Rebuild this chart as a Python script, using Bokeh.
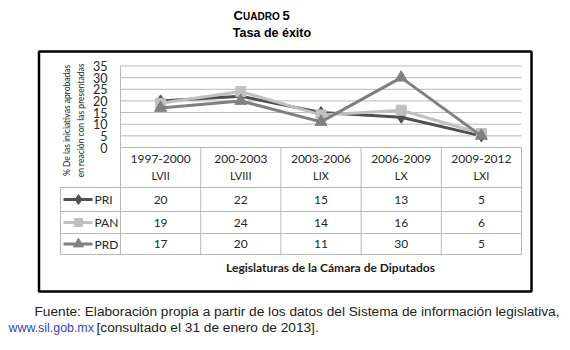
import math
from bokeh.plotting import figure
from bokeh.models import Range1d
from bokeh.core.properties import value
from bokeh.embed import file_html
from bokeh.resources import INLINE

# ---- data ----
periods = ["1997-2000", "200-2003", "2003-2006", "2006-2009", "2009-2012"]
legislaturas = ["LVII", "LVIII", "LIX", "LX", "LXI"]
series_names = ["PRI", "PAN", "PRD"]
pri = [20, 22, 15, 13, 5]
pan = [19, 24, 14, 16, 6]
prd = [17, 20, 11, 30, 5]
y_ticks = [0, 5, 10, 15, 20, 25, 30, 35]
y_title = ["% De las iniciativas aprobadas", "en reación con las presentadas"]
x_title = "Legislaturas de la Cámara de Diputados"
footnote1 = "Fuente: Elaboración propia a partir de los datos del Sistema de información legislativa,"
footnote_link = "www.sil.gob.mx"
footnote2 = "[consultado el 31 de enero de 2013]."

# ---- layout constants (screen) ----
W, H = 570, 350
COL = 80.2          # px per category
X0 = 120            # screen x of category axis start
PPU = 2.33          # px per percentage unit
Y0 = 147            # screen y of value 0

p = figure(width=W, height=H, output_backend="svg", toolbar_location=None,
           x_range=Range1d(-X0 / COL, (W - X0) / COL),
           y_range=Range1d(-(H - Y0) / PPU, Y0 / PPU),
           x_axis_location=None, y_axis_location=None,
           min_border=0, outline_line_color=None)
p.grid.visible = False
p.background_fill_color = "white"
p.border_fill_color = "white"
p.extra_x_ranges = {"px": Range1d(0, W)}
p.extra_y_ranges = {"px": Range1d(H, 0)}
PX = dict(x_range_name="px", y_range_name="px")

n = len(periods)
xc = [i + 0.5 for i in range(n)]
FONT = value("Lato")
GRID = "#b8b8b8"
TXT = "#262626"
SANS = value("Liberation Sans")

# title
p.text(x=[233], y=[15], text=["C"], text_font=SANS, text_font_style="bold",
       text_font_size="13px", text_baseline="middle", text_color="black", **PX)
p.text(x=[242.5], y=[15.8], text=["UADRO"], text_font=SANS, text_font_style="bold",
       text_font_size="10px", text_baseline="middle", text_color="black", **PX)
p.text(x=[282], y=[15], text=["5"], text_font=SANS, text_font_style="bold",
       text_font_size="13px", text_baseline="middle", text_color="black", **PX)
p.text(x=[271.5], y=[32], text=["Tasa de éxito"], text_font=SANS, text_font_style="bold",
       text_font_size="12.5px", text_align="center", text_baseline="middle", text_color="black", **PX)

# outer box
p.quad(left=[38.5], right=[531], top=[51], bottom=[291], fill_color=None,
       line_color="black", line_width=2.5, **PX)

# gridlines
gt = [t for t in y_ticks if t > 0]
p.segment(x0=[0] * len(gt), x1=[n] * len(gt), y0=gt, y1=gt, line_color=GRID, line_width=1)
p.segment(x0=[0], x1=[0], y0=[0], y1=[max(y_ticks)], line_color=GRID, line_width=1)

# y tick labels
p.text(x=[-13 / COL] * len(y_ticks), y=y_ticks, text=[str(t) for t in y_ticks],
       text_font=FONT, text_font_size="12.5px", text_align="right", text_baseline="middle",
       text_color=TXT)

# y title (rotated)
p.text(x=[66, 80], y=[120, 120], text=y_title, angle=math.pi / 2, text_font=FONT,
       text_font_size="8.5px", text_align="center", text_baseline="middle", text_color=TXT, **PX)

# table grid
rows_y = [147, 187, 211, 233, 254]
p.segment(x0=[0], x1=[n], y0=[0], y1=[0], line_color=GRID, line_width=1)
for ry in rows_y[1:]:
    p.segment(x0=[60], x1=[X0 + n * COL], y0=[ry], y1=[ry], line_color=GRID, line_width=1, **PX)
for i in range(n + 1):
    p.segment(x0=[X0 + i * COL], x1=[X0 + i * COL], y0=[147], y1=[254],
              line_color=GRID, line_width=1, **PX)
p.segment(x0=[60], x1=[60], y0=[187], y1=[254], line_color=GRID, line_width=1, **PX)

# header text
p.text(x=xc, y=[158] * n, text=periods, text_font=FONT, text_font_size="12px",
       text_align="center", text_baseline="middle", text_color=TXT,
       y_range_name="px")
p.text(x=xc, y=[175] * n, text=legislaturas, text_font=FONT, text_font_size="11px",
       text_align="center", text_baseline="middle", text_color=TXT,
       y_range_name="px")

series = [pri, pan, prd]
colors = ["#505050", "#c0c0c0", "#808080"]
markers = ["diamond", "square", "triangle"]
msizes = [12, 10, 12]
row_c = [199, 222, 243.5]

for s, name, col, mk, ms, ry in zip(series, series_names, colors, markers, msizes, row_c):
    p.line(x=xc, y=s, line_color=col, line_width=3)
    p.scatter(x=xc, y=s, marker=mk, size=ms, fill_color=col, line_color=col)
    p.text(x=xc, y=[ry] * n, text=[str(v) for v in s], text_font=FONT, text_font_size="12px",
           text_align="center", text_baseline="middle", text_color=TXT, y_range_name="px")
    # legend key in table
    p.line(x=[63, 92], y=[ry, ry], line_color=col, line_width=3, **PX)
    p.scatter(x=[78], y=[ry], marker=mk, size=ms - 2, fill_color=col, line_color=col, **PX)
    p.text(x=[94], y=[ry], text=[name], text_font=FONT, text_font_size="12px",
           text_baseline="middle", text_color=TXT, **PX)

# x title
p.text(x=[330], y=[267], text=[x_title], text_font=FONT, text_font_style="bold",
       text_font_size="12px", text_align="center", text_baseline="middle", text_color="#1a1a1a", **PX)

# footnote
p.text(x=[34], y=[311], text=[footnote1], text_font=SANS,
       text_font_size="13.7px", text_baseline="middle", text_color="#222222", **PX)
p.text(x=[8], y=[327], text=[footnote_link], text_font=SANS,
       text_font_size="12.4px", text_baseline="middle", text_color="#3344bb", **PX)
p.text(x=[96], y=[327], text=[footnote2], text_font=SANS,
       text_font_size="13.7px", text_baseline="middle", text_color="#222222", **PX)

open("out.html", "w").write(file_html(p, INLINE))
